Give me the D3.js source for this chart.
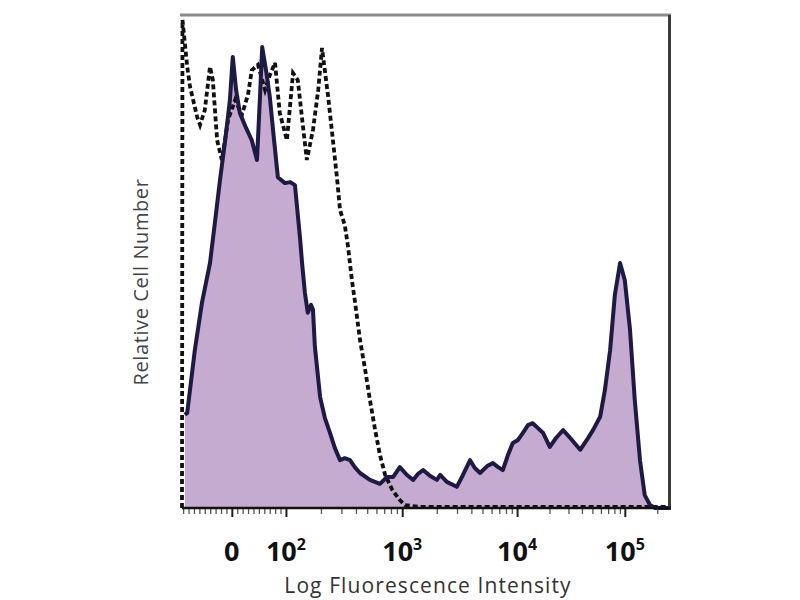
<!DOCTYPE html>
<html><head><meta charset="utf-8">
<script src="https://cdn.jsdelivr.net/npm/d3@7/dist/d3.min.js"></script>
<style>body{margin:0;background:#fff}</style>
</head><body>
<svg id="chart" width="800" height="600"></svg>
<script>
// ---- data (channel = 0..1024 display channel, count = % of max scale) ----
const stainedChannel = [6,11,27,42,59,70,80,91,101,107,114,122,135,147,158,164,169,177,185,194,202,217,228,238,249,253,259,265,272,276,280,291,301,312,322,333,343,354,364,375,396,417,432,445,459,474,487,497,508,523,537,544,558,579,592,607,617,628,643,655,666,676,687,697,708,718,729,739,750,761,775,788,803,818,839,853,866,881,891,902,912,923,933,944,954,965,975,986,997,1024];
const stainedCount = [18.9,19.3,32.0,41.6,49.7,58.4,66.5,74.6,82.8,91.5,84.8,80.1,77.1,74.6,70.6,82.8,93.5,88.8,83.4,74.6,67.1,65.9,66.1,65.5,54.4,49.7,43.6,39.6,41.2,40.2,32.7,22.5,18.3,15.2,12.2,9.7,10.1,9.7,8.3,7.1,5.7,4.9,6.3,6.3,8.3,6.7,5.7,6.9,7.7,6.5,5.7,6.7,5.3,4.3,6.7,9.7,8.1,7.1,8.5,9.1,8.3,7.7,10.8,13.2,13.8,15.2,16.8,17.2,16.2,15.2,12.4,14.2,15.8,14.2,11.8,13.8,15.8,18.5,23.9,32.0,43.2,49.7,46.2,36.1,21.9,9.7,2.6,0.6,0,0];

const isotypeChannel = [0,1,11,17,32,38,48,59,65,74,84,97,112,126,139,147,160,175,185,196,206,221,234,244,255,263,276,287,295,308,318,327,333,343,350,358,364,375,386,396,407,417,428,443,459,470,501,1024];
const isotypeCount = [0,99.0,89.5,85.4,79.3,77.7,80.7,89.5,86.8,74.6,70.6,78.7,82.8,79.7,83.8,88.8,89.9,84.8,87.8,90.3,80.1,74.6,88.2,86.8,77.3,70.6,76.7,84.8,93.3,83.4,74.6,66.5,60.4,57.4,52.9,46.2,42.2,34.1,28.0,21.9,15.8,10.8,6.7,3.7,1.6,0.6,0.2,0.2];

const tickValues = [0, 1e2, 1e3, 1e4, 1e5];
const tickChannels = [105, 219, 464, 706, 933];
const tickBase = ["0", "10", "10", "10", "10"];
const tickExp = ["", "2", "3", "4", "5"];
const xTitle = "Log Fluorescence Intensity";
const yTitle = "Relative Cell Number";

// ---- layout ----
const svg = d3.select("#chart");
const L = 182, R = 668, T = 15, B = 508;
const x = d3.scaleLinear().domain([0, 1024]).range([L, R]);
const y = d3.scaleLinear().domain([0, 100]).range([B, T]);

// value -> channel helpers for minor ticks (biexponential-like display)
const logPart = d3.scaleLog().domain(tickValues.slice(1)).range(tickChannels.slice(1));
const linPart = d3.scaleLinear().domain([-100, 0, 100]).range([2*tickChannels[0]-tickChannels[1], tickChannels[0], tickChannels[1]]);
function valueToChannel(v) { return (v > 100) ? logPart(v) : linPart(v); }
const minorVals = [];
for (let m = 1; m < 10; m++) { minorVals.push(-m*10); minorVals.push(m*10); }
for (let e = 2; e < 5; e++) for (let m = 2; m < 10; m++) minorVals.push(m*Math.pow(10, e));
for (let m = 2; m <= 3; m++) minorVals.push(m*1e5);
const minorChannels = minorVals.map(valueToChannel).filter(c => c >= 0 && c <= 1024);

const stained = stainedChannel.map((c, i) => ({c, n: stainedCount[i]}));
const isotype = isotypeChannel.map((c, i) => ({c, n: isotypeCount[i]}));

// frame
svg.append("line").attr("x1", L-2).attr("x2", R+3).attr("y1", T).attr("y2", T)
  .attr("stroke", "#8a8a8a").attr("stroke-width", 3);
svg.append("line").attr("x1", R+1.5).attr("x2", R+1.5).attr("y1", T).attr("y2", B+2)
  .attr("stroke", "#3a3a3a").attr("stroke-width", 3);

// filled histogram
svg.append("path").datum(stained)
  .attr("d", d3.area().x(d => x(d.c)).y0(y(0)).y1(d => y(d.n)))
  .attr("fill", "#c4abcf");

// isotype dashed
svg.append("path").datum(isotype)
  .attr("d", d3.line().x(d => x(d.c)).y(d => y(d.n)))
  .attr("fill", "none").attr("stroke", "#111").attr("stroke-width", 3.8)
  .attr("stroke-dasharray", "5,3");

// stained outline
svg.append("path").datum(stained)
  .attr("d", d3.line().x(d => x(d.c)).y(d => y(d.n)))
  .attr("fill", "none").attr("stroke", "#1d1a45").attr("stroke-width", 4)
  .attr("stroke-linejoin", "round");

// axis
const gMinor = svg.append("g").attr("transform", `translate(0,${B})`)
  .call(d3.axisBottom(x).tickValues(minorChannels).tickSize(6).tickFormat(""));
gMinor.select(".domain").remove();
gMinor.selectAll("line").attr("stroke", "#555").attr("stroke-width", 1.3);
const gMajor = svg.append("g").attr("transform", `translate(0,${B})`)
  .call(d3.axisBottom(x).tickValues(tickChannels).tickSize(9).tickFormat(""));
gMajor.select(".domain").remove();
gMajor.selectAll("line").attr("stroke", "#222").attr("stroke-width", 2);
svg.append("line").attr("x1", L).attr("x2", R+3).attr("y1", B).attr("y2", B)
  .attr("stroke", "#111").attr("stroke-width", 2.5);

// tick labels
const lab = svg.append("g");
tickChannels.forEach((c, i) => {
  const t = lab.append("text").attr("x", x(c)).attr("y", 561)
    .attr("text-anchor", "middle")
    .attr("font-family", "'Open Sans', sans-serif").attr("font-weight", 700)
    .attr("font-size", 27).attr("fill", "#111");
  t.append("tspan").text(tickBase[i]);
  if (tickExp[i]) t.append("tspan").attr("dy", -11).attr("font-size", 16).text(tickExp[i]);
});

// titles
svg.append("text").attr("x", 428).attr("y", 593).attr("text-anchor", "middle")
  .attr("font-family", "'Open Sans', sans-serif").attr("font-size", 21).attr("fill", "#333")
  .attr("letter-spacing", 1.1)
  .text(xTitle);
svg.append("text").attr("transform", "translate(148,282) rotate(-90)").attr("text-anchor", "middle")
  .attr("font-family", "'Open Sans', sans-serif").attr("font-size", 20).attr("fill", "#444")
  .attr("letter-spacing", 0.6)
  .text(yTitle);
</script>
</body></html>
